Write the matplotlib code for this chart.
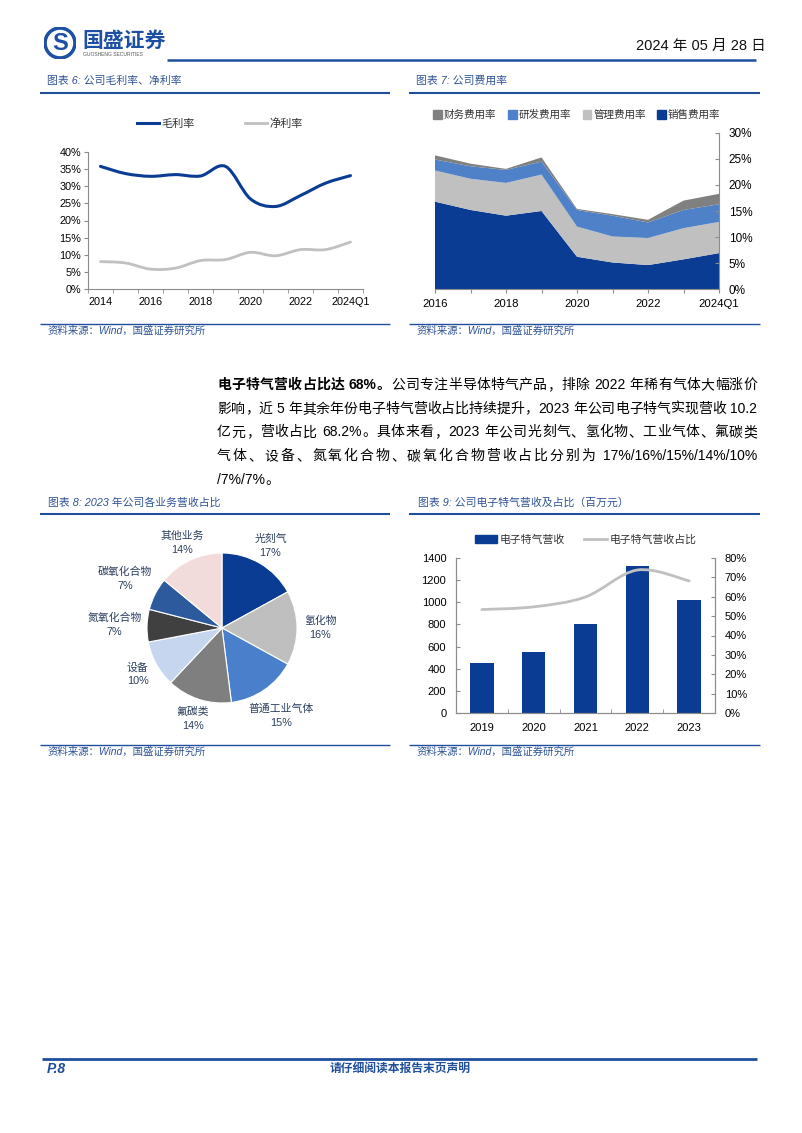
import numpy as np
import matplotlib
matplotlib.use("Agg")
from matplotlib import pyplot as plt
from matplotlib.path import Path
from matplotlib.patches import PathPatch, Patch, Circle
from matplotlib.lines import Line2D
from matplotlib.ticker import FuncFormatter

plt.rcParams['font.family'] = ['Liberation Sans', 'Noto Sans CJK SC']

# ---- data ----
# 图表6 毛利率/净利率 (%)
yr6 = ['2014', '2015', '2016', '2017', '2018', '2019', '2020', '2021', '2022', '2023', '2024Q1']
gross = [35.8, 33.7, 32.9, 33.4, 33.0, 35.8, 26.3, 24.1, 27.3, 30.9, 33.1]
net = [8.0, 7.6, 5.8, 6.1, 8.3, 8.6, 10.7, 9.7, 11.5, 11.5, 13.7]

# 图表7 费用率 (%)
yr7 = ['2016', '2017', '2018', '2019', '2020', '2021', '2022', '2023', '2024Q1']
sales = [16.8, 15.2, 14.1, 15.0, 6.2, 5.1, 4.6, 5.7, 6.9]
admin = [6.0, 6.0, 6.3, 7.0, 5.8, 5.0, 5.2, 6.0, 6.0]
rnd = [2.1, 2.4, 2.5, 2.5, 3.2, 4.0, 3.0, 3.5, 3.4]
fin = [0.8, 0.5, 0.2, 0.8, 0.2, 0.3, 0.5, 1.8, 2.0]

# 图表8 2023年各业务营收占比 (%)
seg = ['光刻气', '氢化物', '普通工业气体', '氟碳类', '设备', '氮氧化合物', '碳氧化合物', '其他业务']
pct = [17, 16, 15, 14, 10, 7, 7, 14]

# 图表9 电子特气营收(百万元)及占比(%)
yr9 = ['2019', '2020', '2021', '2022', '2023']
rev = [455, 555, 805, 1330, 1025]
share = [53.4, 54.8, 59.9, 73.8, 68.2]

# ---- colours ----
DBLUE = '#0b3c94'
MBLUE = '#4f81c9'
LGRAY = '#c0c0c0'
DGRAY = '#808080'
HEAD = '#1f4e9c'
TCOL = '#2f5496'
SPINE = '#8c8c8c'

W, H = 802, 1133
fig = plt.figure(figsize=(W / 100, H / 100), dpi=100)


def fx(x):
    return x / W


def fy(y):
    return 1 - y / H


def add_ax(l, t, r, b):
    return fig.add_axes([l / W, 1 - b / H, (r - l) / W, (b - t) / H])


def hline(x0, x1, y, lw, color=HEAD):
    fig.add_artist(Line2D([fx(x0), fx(x1)], [fy(y), fy(y)], transform=fig.transFigure,
                          color=color, lw=lw, solid_capstyle='butt'))


def smooth_path(xs, ys):
    pts = np.column_stack([xs, ys]).astype(float)
    n = len(pts)
    verts = [pts[0]]
    codes = [Path.MOVETO]
    for i in range(n - 1):
        p0 = pts[max(i - 1, 0)]
        p1 = pts[i]
        p2 = pts[i + 1]
        p3 = pts[min(i + 2, n - 1)]
        verts += [p1 + (p2 - p0) / 6, p2 - (p3 - p1) / 6, p2]
        codes += [Path.CURVE4] * 3
    return Path(verts, codes)


def pct_fmt(v, pos):
    return '%d%%' % round(v)


# ---- header ----
lax = add_ax(44, 27, 76, 59)
lax.set_xlim(-1, 1)
lax.set_ylim(-1, 1)
lax.set_aspect('equal')
lax.axis('off')
lax.add_patch(Circle((0, 0), 1, color='#1d4fa3'))
lax.add_patch(Circle((0, 0), 0.78, color='white'))
lax.text(0, -0.05, 'S', ha='center', va='center', fontsize=17, weight='bold', color='#1d4fa3')
fig.text(fx(82), fy(40), '国盛证券', fontsize=15, weight='bold', color='#1d4fa3',
         va='center', family=['Noto Sans CJK SC'])
fig.text(fx(83), fy(55), 'GUOSHENG SECURITIES', fontsize=3.6, color='#555555', va='center')
fig.text(fx(636), fy(46), '2024 年 05 月 28 日', fontsize=10.5, va='center', color='#111111')
hline(167, 756, 59.5, 1.8)

# ---- titles / sources ----
for x, y, s in [(47, 81, '图表 6: 公司毛利率、净利率'), (416, 81, '图表 7: 公司费用率'),
                (48, 503, '图表 8: 2023 年公司各业务营收占比'),
                (418, 503, '图表 9: 公司电子特气营收及占比（百万元）')]:
    fig.text(fx(x), fy(y), s, fontsize=7.8, color=TCOL, style='italic', va='center')
for y in [92.5, 513.5]:
    hline(40, 390, y, 1.5)
    hline(409, 760, y, 1.5)
for y in [324, 745]:
    hline(40, 390, y, 1.0)
    hline(409, 760, y, 1.0)
    fig.text(fx(48), fy(y + 7), '资料来源：Wind，国盛证券研究所', fontsize=7.5, color=TCOL,
             style='italic', va='center')
    fig.text(fx(417), fy(y + 7), '资料来源：Wind，国盛证券研究所', fontsize=7.5, color=TCOL,
             style='italic', va='center')

# ---- chart 6 ----
ax6 = add_ax(88, 152, 363, 289)
x6 = np.arange(len(yr6))
ax6.add_patch(PathPatch(smooth_path(x6, gross), fill=False, color=DBLUE, lw=2.2, capstyle='round'))
ax6.add_patch(PathPatch(smooth_path(x6, net), fill=False, color=LGRAY, lw=2.0, capstyle='round'))
ax6.set_xlim(-0.5, len(yr6) - 0.5)
ax6.set_ylim(0, 40)
ax6.set_yticks(np.arange(0, 41, 5))
ax6.yaxis.set_major_formatter(FuncFormatter(pct_fmt))
ax6.set_xticks(x6[::2], [yr6[i] for i in x6[::2]])
ax6.set_xticks(np.arange(-0.5, len(yr6), 1), minor=True)
ax6.tick_params(axis='x', which='major', length=0, labelsize=7.8, pad=6)
ax6.tick_params(axis='x', which='minor', length=3, color=SPINE)
ax6.tick_params(axis='y', length=3, color=SPINE, labelsize=7.8, pad=2)
for s in ['top', 'right']:
    ax6.spines[s].set_visible(False)
for s in ['left', 'bottom']:
    ax6.spines[s].set_color(SPINE)
ax6.legend([Line2D([], [], color=DBLUE, lw=2.2), Line2D([], [], color=LGRAY, lw=2.0)],
           ['毛利率', '净利率'], loc='center', bbox_to_anchor=(0.48, 1.21), ncol=2,
           frameon=False, fontsize=8, handlelength=2.0, handletextpad=0.2, columnspacing=4.5,
           labelcolor='#333333')

# ---- chart 7 ----
ax7 = add_ax(435, 133, 719, 289)
x7 = np.arange(len(yr7))
ax7.stackplot(x7, sales, admin, rnd, fin, colors=[DBLUE, LGRAY, MBLUE, DGRAY], lw=0)
ax7.set_xlim(0, len(yr7) - 1)
ax7.set_ylim(0, 30)
ax7.yaxis.tick_right()
ax7.set_yticks(np.arange(0, 31, 5))
ax7.yaxis.set_major_formatter(FuncFormatter(pct_fmt))
ax7.set_xticks(x7, [yr7[i] if i % 2 == 0 else '' for i in x7])
ax7.tick_params(axis='x', length=3, color=SPINE, labelsize=8.2, pad=4)
ax7.tick_params(axis='y', direction='in', length=3, color=SPINE, labelsize=8.5, pad=7)
for s in ['top', 'left']:
    ax7.spines[s].set_visible(False)
for s in ['right', 'bottom']:
    ax7.spines[s].set_color(SPINE)
ax7.legend([Patch(color=DGRAY), Patch(color=MBLUE), Patch(color=LGRAY), Patch(color=DBLUE)],
           ['财务费用率', '研发费用率', '管理费用率', '销售费用率'], loc='center',
           bbox_to_anchor=(0.5, 1.115), ncol=4, frameon=False, fontsize=7.6,
           handlelength=0.8, handleheight=0.8, handletextpad=0.2, columnspacing=1.1,
           labelcolor='#333333')

# ---- chart 8 pie ----
ax8 = add_ax(147, 553, 297, 703)
wedges, _ = ax8.pie(pct, startangle=90, counterclock=False, radius=1,
                    colors=[DBLUE, '#bfbfbf', '#4a7fcc', '#7f7f7f', '#c6d6ee', '#404040', '#2c5a9c', '#f2dcdb'],
                    wedgeprops=dict(edgecolor='white', lw=0.8))
ax8.set_xlim(-1, 1)
ax8.set_ylim(-1, 1)
dist = [1.27, 1.31, 1.41, 1.27, 1.28, 1.43, 1.45, 1.26]
for w, name, p, d in zip(wedges, seg, pct, dist):
    ang = np.deg2rad((w.theta1 + w.theta2) / 2)
    ax8.text(d * np.cos(ang), d * np.sin(ang), '%s\n%d%%' % (name, p), ha='center', va='center',
             fontsize=7.8, color='#2b3f5f', linespacing=1.5, clip_on=False)

# ---- chart 9 ----
ax9 = add_ax(456, 558, 715, 713)
x9 = np.arange(len(yr9))
ax9.bar(x9, rev, width=0.45, color=DBLUE)
ax9.set_xlim(-0.5, len(yr9) - 0.5)
ax9.set_ylim(0, 1400)
ax9.set_yticks(np.arange(0, 1401, 200))
ax9.set_xticks(x9, yr9)
ax9.set_xticks(np.arange(-0.5, len(yr9), 1), minor=True)
ax9.tick_params(axis='x', which='major', length=0, labelsize=8, pad=7)
ax9.tick_params(axis='x', which='minor', direction='in', length=3, color=SPINE)
ax9.tick_params(axis='y', direction='in', length=3, color=SPINE, labelsize=8, pad=7)
ax9b = ax9.twinx()
ax9b.add_patch(PathPatch(smooth_path(x9, share), fill=False, color=LGRAY, lw=2.0, capstyle='round'))
ax9b.set_ylim(0, 80)
ax9b.set_yticks(np.arange(0, 81, 10))
ax9b.yaxis.set_major_formatter(FuncFormatter(pct_fmt))
ax9b.tick_params(axis='y', direction='in', length=3, color=SPINE, labelsize=8, pad=7)
for a in [ax9, ax9b]:
    a.spines['top'].set_visible(False)
    for s in ['left', 'right', 'bottom']:
        a.spines[s].set_color(SPINE)
ax9.legend([Patch(color=DBLUE), Line2D([], [], color=LGRAY, lw=2.0)],
           ['电子特气营收', '电子特气营收占比'], loc='center', bbox_to_anchor=(0.5, 1.12), ncol=2,
           frameon=False, fontsize=7.8, handlelength=2.1, handleheight=0.7, handletextpad=0.2,
           columnspacing=1.8, labelcolor='#333333')

# ---- paragraph ----
para = [
    [('电子特气营收占比达 68%。', 'bold'), ('公司专注半导体特气产品，排除 2022 年稀有气体大幅涨价', 'normal')],
    [('影响，近 5 年其余年份电子特气营收占比持续提升，2023 年公司电子特气实现营收 10.2', 'normal')],
    [('亿元，营收占比 68.2%。具体来看，2023 年公司光刻气、氢化物、工业气体、氟碳类', 'normal')],
    [('气体、设备、氮氧化合物、碳氧化合物营收占比分别为 17%/16%/15%/14%/10%', 'normal')],
    [('/7%/7%。', 'normal')],
]
rend = fig.canvas.get_renderer()
size = 10
sp = 0.28 * size * 100 / 72
for k, line in enumerate(para):
    y = 385 + k * 23.7
    objs = []
    for txt, wt in line:
        run = ''
        for ch in txt + '\0':
            if ch != '\0' and ord(ch) < 128 and ch != ' ':
                run += ch
                continue
            if run:
                objs.append(fig.text(0, fy(y), run, fontsize=size, weight=wt, va='center'))
                run = ''
            if ch == ' ':
                objs.append(None)
            elif ch != '\0':
                objs.append(fig.text(0, fy(y), ch, fontsize=size, weight=wt, va='center'))
    widths = [sp if o is None else o.get_window_extent(rend).width for o in objs]
    gap = 0
    if k < len(para) - 1:
        gap = (757 - 217 - sum(widths)) / (len(objs) - 1)
    x = 217
    for o, w in zip(objs, widths):
        if o is not None:
            o.set_x(fx(x))
        x += w + gap

# ---- footer ----
hline(42, 757, 1059, 2.0)
fig.text(fx(47), fy(1069), 'P.8', fontsize=10, weight='bold', style='italic', color=HEAD, va='center')
fig.text(fx(400), fy(1069), '请仔细阅读本报告末页声明', fontsize=8.5, weight='bold', color=HEAD,
         ha='center', va='center')

fig.savefig('out.png', dpi=100)
